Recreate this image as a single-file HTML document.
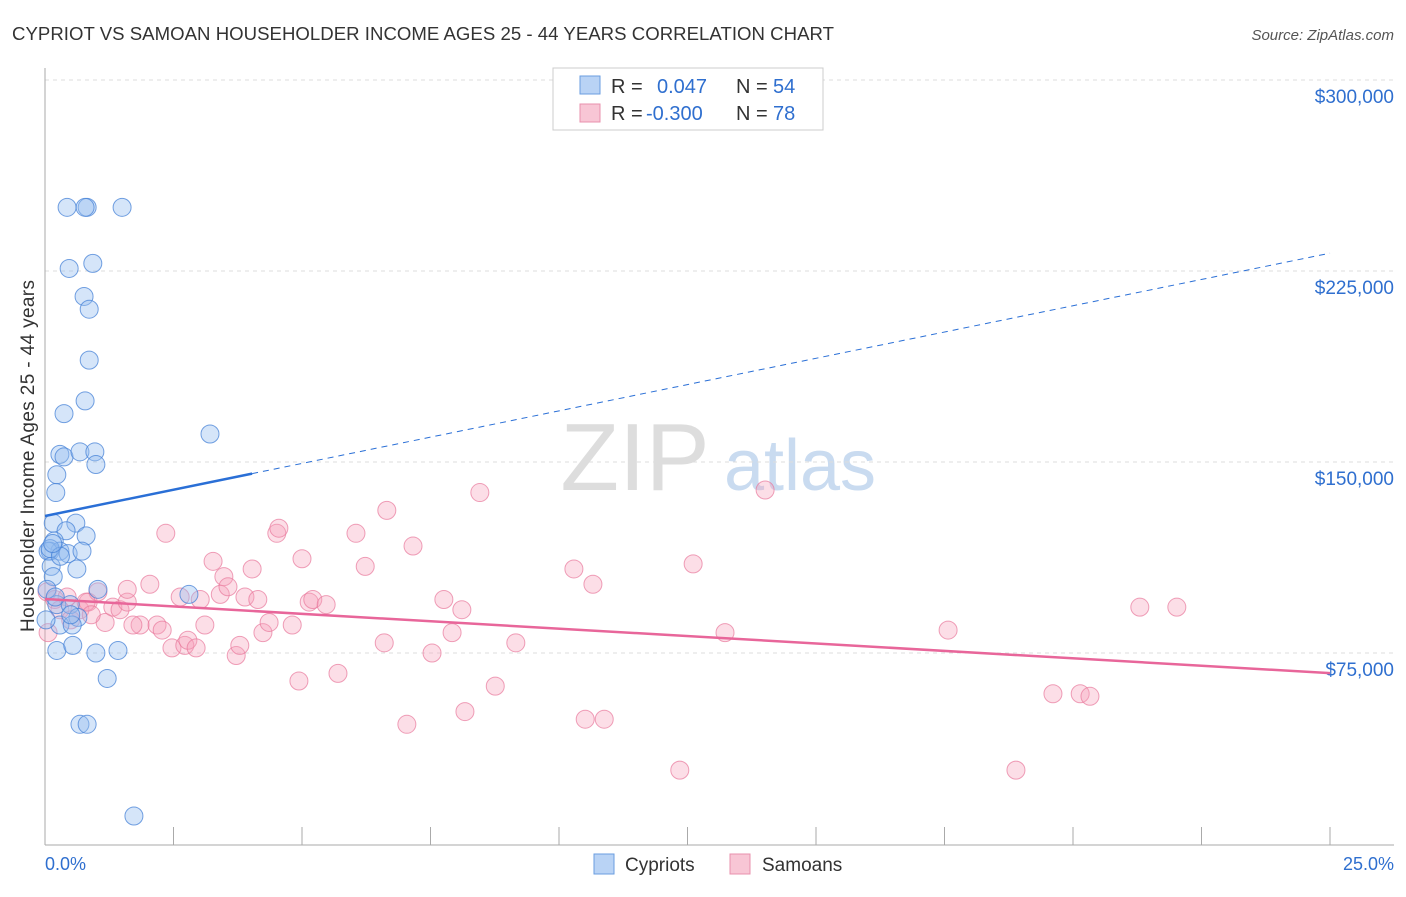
<!DOCTYPE html>
<html><head><meta charset="utf-8"><style>
body{margin:0;background:#fff;font-family:"Liberation Sans",sans-serif;}
svg text{font-family:"Liberation Sans",sans-serif;}
</style></head><body>
<svg id="chart" width="1406" height="892" xmlns="http://www.w3.org/2000/svg">
<text x="12" y="40" font-size="18.6" fill="#333" textLength="822">CYPRIOT VS SAMOAN HOUSEHOLDER INCOME AGES 25 - 44 YEARS CORRELATION CHART</text>
<text x="1394" y="40" font-size="15" fill="#555" font-style="italic" text-anchor="end">Source: ZipAtlas.com</text>
<text x="635" y="490" font-size="96" fill="#ddd" font-family="Liberation Serif" text-anchor="middle">ZIP</text>
<text x="800" y="490" font-size="72" fill="#c9dbf0" text-anchor="middle">atlas</text>
<text transform="translate(34,456) rotate(-90)" font-size="19" fill="#333" text-anchor="middle" textLength="352">Householder Income Ages 25 - 44 years</text>
<g id="grid"></g><g id="pts"></g><g id="lines"></g>
<g>
<rect x="553" y="68" width="270" height="62" fill="#fff" stroke="#ccc"/>
<rect x="580" y="76" width="20" height="18" fill="#b9d3f5" stroke="#6a9ee0"/>
<rect x="580" y="104" width="20" height="18" fill="#f8c6d5" stroke="#e890ad"/>
<text x="611" y="93" font-size="20" fill="#333">R =</text>
<text x="657" y="93" font-size="20" fill="#2f6fcf">0.047</text>
<text x="736" y="93" font-size="20" fill="#333">N =</text>
<text x="773" y="93" font-size="20" fill="#2f6fcf">54</text>
<text x="611" y="120" font-size="20" fill="#333">R =</text>
<text x="646" y="120" font-size="20" fill="#2f6fcf">-0.300</text>
<text x="736" y="120" font-size="20" fill="#333">N =</text>
<text x="773" y="120" font-size="20" fill="#2f6fcf">78</text>
</g>
<g>
<rect x="594" y="854" width="20" height="20" fill="#b9d3f5" stroke="#6a9ee0"/>
<text x="625" y="871" font-size="19" fill="#333">Cypriots</text>
<rect x="730" y="854" width="20" height="20" fill="#f8c6d5" stroke="#e890ad"/>
<text x="762" y="871" font-size="19" fill="#333">Samoans</text>
</g>
<text x="45" y="870" font-size="18" fill="#2f6fcf">0.0%</text>
<text x="1394" y="870" font-size="18" fill="#2f6fcf" text-anchor="end">25.0%</text>
</svg>
<script>
const yTicks=[75000,150000,225000,300000];
const yTickLabels=["$75,000","$150,000","$225,000","$300,000"];
const blueX=[0.43,0.82,0.78,1.50,0.47,0.93,0.76,0.86,0.86,0.78,0.37,3.21,0.29,0.37,0.68,0.97,0.99,0.23,0.21,0.16,0.60,0.41,0.80,0.18,0.10,0.29,0.45,0.72,0.06,0.12,0.62,0.16,1.03,2.80,0.04,0.23,0.49,0.64,0.29,0.53,0.02,0.23,0.54,0.99,1.42,1.21,0.68,0.82,1.73,0.1,0.3,0.2,0.15,0.5];
const blueY=[250000,250000,250000,250000,226000,228000,215000,210000,190000,174000,169000,161000,153000,152000,154000,154000,149000,145000,138000,126000,126000,123000,121000,119000,115000,115000,114000,115000,115000,109000,108000,105000,100000,98000,100000,94000,94000,89000,86000,86000,88000,76000,78000,75000,76000,65000,47000,47000,11000,116000,113000,97000,118000,90000];
const pinkX=[0.04,0.19,0.43,0.68,0.29,0.84,1.03,0.80,1.17,1.32,1.46,1.60,1.85,1.71,2.04,2.18,2.28,2.35,2.47,2.63,2.72,2.78,2.94,3.02,3.11,3.27,3.41,3.48,3.56,3.72,3.79,3.89,4.03,4.14,4.24,4.36,4.51,4.55,4.81,4.94,5.00,5.14,5.21,5.47,5.70,6.05,6.23,6.60,6.65,7.04,7.16,7.53,7.76,7.92,8.11,8.17,8.46,8.76,9.16,10.29,10.51,10.66,10.88,12.35,12.61,13.23,14.01,17.57,18.89,19.61,20.14,20.33,21.30,22.02,0.06,0.5,0.9,1.6];
const pinkY=[99000,96000,97000,92000,92000,95000,99000,95000,87000,93000,92000,95000,86000,86000,102000,86000,84000,122000,77000,97000,78000,80000,77000,96000,86000,111000,98000,105000,101000,74000,78000,97000,108000,96000,83000,87000,122000,124000,86000,64000,112000,95000,96000,94000,67000,122000,109000,79000,131000,47000,117000,75000,96000,83000,92000,52000,138000,62000,79000,108000,49000,102000,49000,29000,110000,83000,139000,84000,29000,59000,59000,58000,93000,93000,83000,88000,90000,100000];
const xPix=p=>45+p*1285/25, yPix=v=>844-v*191/75000;
const NS="http://www.w3.org/2000/svg";
function mk(t,a,parent){const e=document.createElementNS(NS,t);for(const k in a)e.setAttribute(k,a[k]);document.getElementById(parent).appendChild(e);return e;}
yTicks.forEach((v,i)=>{
 const l=mk('line',{x1:45,x2:1394,y1:yPix(v),y2:yPix(v),stroke:'#ddd','stroke-dasharray':'4,4'},'grid');
 
 
 const t=mk('text',{x:1394,y:yPix(v)+23,'font-size':19,fill:'#2f6fcf','text-anchor':'end'},'grid');
 t.textContent=yTickLabels[i];
 
 
});
const ax=mk('line',{x1:45,x2:45,y1:68,y2:845,stroke:'#aaa'},'grid');

const xa=mk('line',{x1:45,x2:1394,y1:845,y2:845,stroke:'#aaa'},'grid');

for(let i=0;i<=10;i++){const t=mk('line',{x1:xPix(i*2.5),x2:xPix(i*2.5),y1:827,y2:845,stroke:'#aaa'},'grid');
 
 }
pinkX.forEach((x,i)=>{const c=mk('circle',{cx:xPix(x),cy:yPix(pinkY[i]),r:9,fill:'rgba(245,160,185,0.35)',stroke:'rgba(232,120,155,0.7)','stroke-width':1},'pts');
 
 });
blueX.forEach((x,i)=>{const c=mk('circle',{cx:xPix(x),cy:yPix(blueY[i]),r:9,fill:'rgba(150,190,240,0.4)',stroke:'rgba(70,130,215,0.75)','stroke-width':1},'pts');
 
 });
const blueTrend=[128800,232000], pinkTrend=[96200,67100];
const bAt=p=>blueTrend[0]+(blueTrend[1]-blueTrend[0])*p/25;
const solidEnd=4.03;
let l=mk('line',{x1:xPix(0),y1:yPix(bAt(0)),x2:xPix(solidEnd),y2:yPix(bAt(solidEnd)),stroke:'#2a6fd6','stroke-width':2.5},'lines');

l=mk('line',{x1:xPix(solidEnd),y1:yPix(bAt(solidEnd)),x2:xPix(25),y2:yPix(bAt(25)),stroke:'#2a6fd6','stroke-width':1,'stroke-dasharray':'6,5'},'lines');

l=mk('line',{x1:xPix(0),y1:yPix(pinkTrend[0]),x2:xPix(25),y2:yPix(pinkTrend[1]),stroke:'#e8669a','stroke-width':2.5},'lines');

</script>
</body></html>
